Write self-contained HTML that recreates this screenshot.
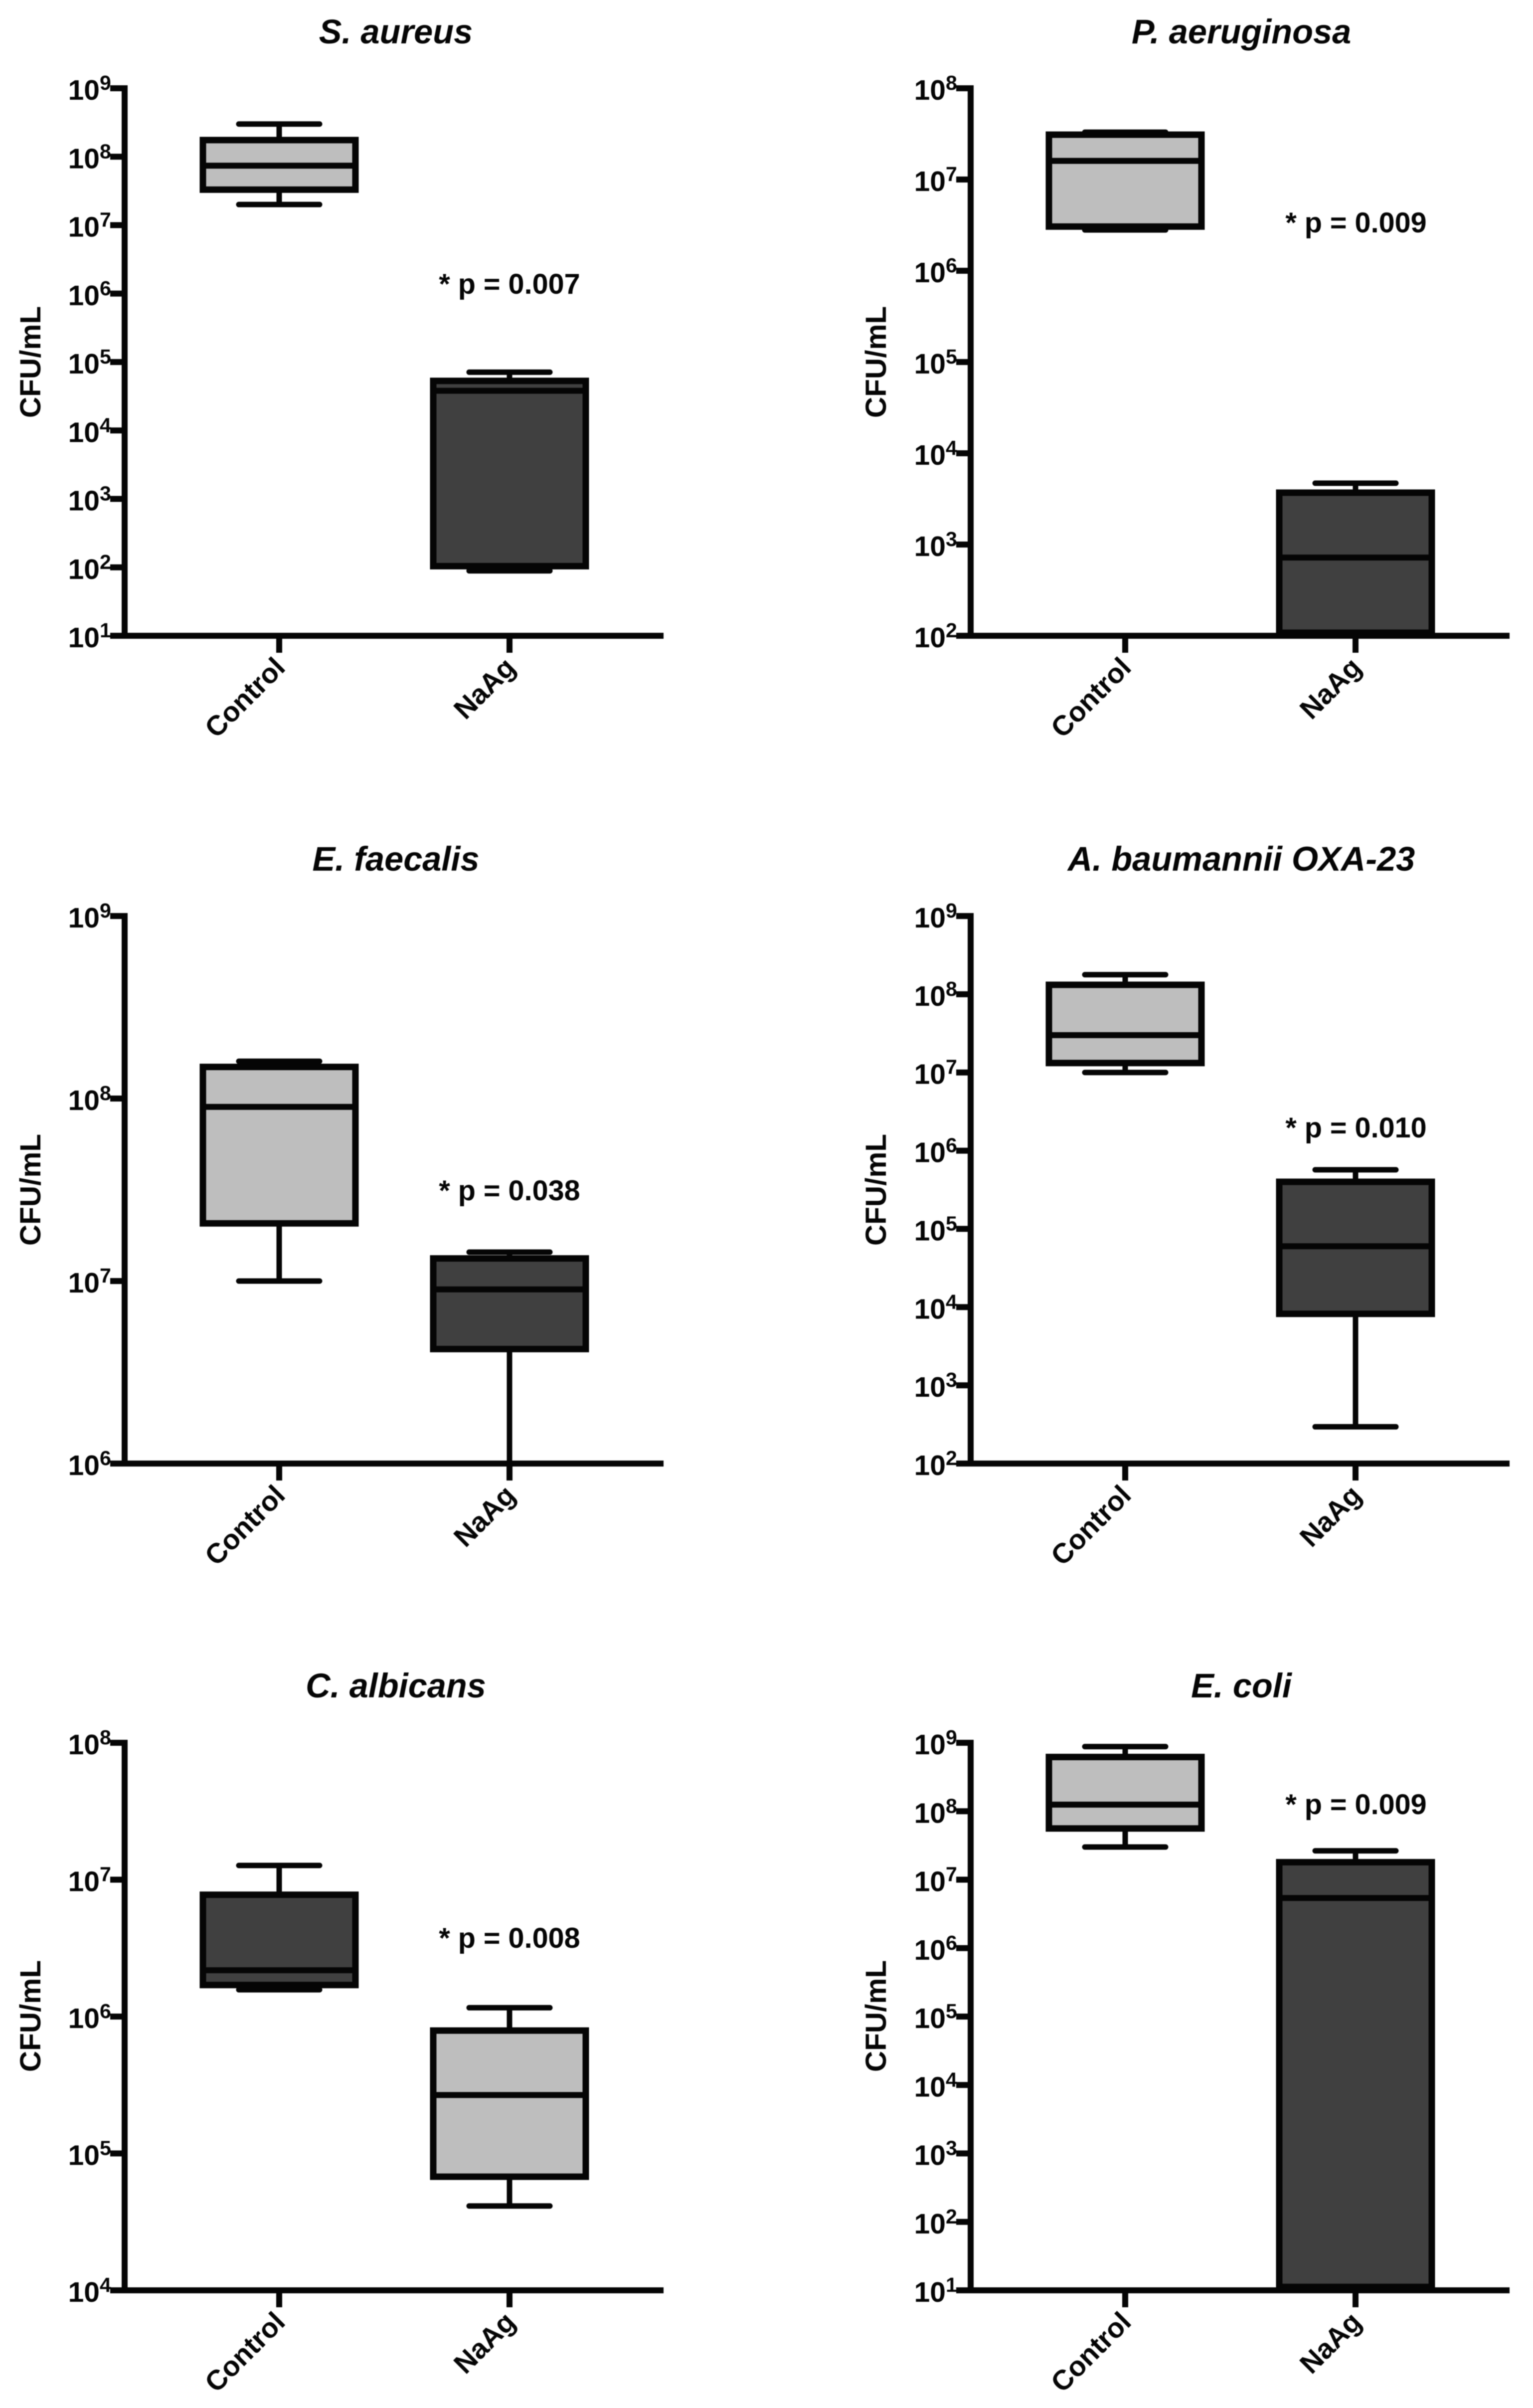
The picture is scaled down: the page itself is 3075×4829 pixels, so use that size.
<!DOCTYPE html>
<html lang="en">
<head>
<meta charset="utf-8">
<title>CFU/mL box plots: Control vs NaAg</title>
<style>
  html, body { margin: 0; padding: 0; background: #fff; }
  svg { display: block; filter: blur(0.9px); }
  text { font-family: "Liberation Sans", Arial, sans-serif; font-weight: 700; fill: #050505; }
  .title { font-size: 68.5px; font-style: italic; text-anchor: middle; }
  .ytitle { font-size: 58.5px; text-anchor: middle; }
  .pval { font-size: 57.6px; text-anchor: middle; }
</style>
</head>
<body>
<svg id="figure" xmlns="http://www.w3.org/2000/svg" width="3075" height="4829" viewBox="0 0 3075 4829">
  <rect x="0" y="0" width="3075" height="4829" fill="#ffffff"/>

  <g id="panel-0">
    <text class="title" x="794" y="87">S. aureus</text>
    <text class="ytitle" transform="translate(81 726) rotate(-90)">CFU/mL</text>
    <text class="pval" x="1022" y="589">* p = 0.007</text>
  </g>
  <g id="panel-1">
    <text class="title" x="2490" y="87">P. aeruginosa</text>
    <text class="ytitle" transform="translate(1777 726) rotate(-90)">CFU/mL</text>
    <text class="pval" x="2720" y="466">* p = 0.009</text>
  </g>
  <g id="panel-2">
    <text class="title" x="794" y="1746">E. faecalis</text>
    <text class="ytitle" transform="translate(81 2386) rotate(-90)">CFU/mL</text>
    <text class="pval" x="1022" y="2407">* p = 0.038</text>
  </g>
  <g id="panel-3">
    <text class="title" x="2490" y="1746">A. baumannii OXA-23</text>
    <text class="ytitle" transform="translate(1777 2386) rotate(-90)">CFU/mL</text>
    <text class="pval" x="2720" y="2281">* p = 0.010</text>
  </g>
  <g id="panel-4">
    <text class="title" x="794" y="3404">C. albicans</text>
    <text class="ytitle" transform="translate(81 4043) rotate(-90)">CFU/mL</text>
    <text class="pval" x="1022" y="3906">* p = 0.008</text>
  </g>
  <g id="panel-5">
    <text class="title" x="2490" y="3404">E. coli</text>
    <text class="ytitle" transform="translate(1777 4043) rotate(-90)">CFU/mL</text>
    <text class="pval" x="2720" y="3638">* p = 0.009</text>
  </g>
</svg>

<script>
// Categories shared by every panel
const categories = ['Control', 'NaAg'];

// Tick exponents (labels are 10^n), lowest to highest
const sAureusTicks = [1, 2, 3, 4, 5, 6, 7, 8, 9];
const pAeruginosaTicks = [2, 3, 4, 5, 6, 7, 8];
const eFaecalisTicks = [6, 7, 8, 9];
const aBaumanniiTicks = [2, 3, 4, 5, 6, 7, 8, 9];
const cAlbicansTicks = [4, 5, 6, 7, 8];
const eColiTicks = [1, 2, 3, 4, 5, 6, 7, 8, 9];

// Box values in CFU/mL: [whisker low, box bottom, median, box top, whisker high]
const sAureusControl = [2.0e7, 3.3e7, 7.4e7, 1.75e8, 3.0e8];
const sAureusNaAg = [8.9e1, 1.04e2, 3.8e4, 5.3e4, 7.1e4];
const pAeruginosaControl = [2.8e6, 3.05e6, 1.6e7, 3.1e7, 3.3e7];
const pAeruginosaNaAg = [1.05e2, 1.08e2, 7.2e2, 3.7e3, 4.7e3];
const eFaecalisControl = [1.0e7, 2.07e7, 9.0e7, 1.49e8, 1.6e8];
const eFaecalisNaAg = [1.0e6, 4.24e6, 9.0e6, 1.33e7, 1.44e7];
const aBaumanniiControl = [1.0e7, 1.32e7, 3.0e7, 1.32e8, 1.78e8];
const aBaumanniiNaAg = [2.95e2, 8.2e3, 6.0e4, 4.0e5, 5.7e5];
const cAlbicansControl = [1.57e6, 1.7e6, 2.18e6, 7.76e6, 1.27e7];
const cAlbicansNaAg = [4.13e4, 6.76e4, 2.67e5, 7.9e5, 1.16e6];
const eColiControl = [3.0e7, 5.6e7, 1.25e8, 6.2e8, 8.8e8];
const eColiNaAg = [1.05e1, 1.12e1, 5.4e6, 1.8e7, 2.64e7];

const panelSeries = [
  { ticks: sAureusTicks, control: sAureusControl, naag: sAureusNaAg, controlFill: '#bebebe', naagFill: '#404040' },
  { ticks: pAeruginosaTicks, control: pAeruginosaControl, naag: pAeruginosaNaAg, controlFill: '#bebebe', naagFill: '#404040' },
  { ticks: eFaecalisTicks, control: eFaecalisControl, naag: eFaecalisNaAg, controlFill: '#bebebe', naagFill: '#404040' },
  { ticks: aBaumanniiTicks, control: aBaumanniiControl, naag: aBaumanniiNaAg, controlFill: '#bebebe', naagFill: '#404040' },
  { ticks: cAlbicansTicks, control: cAlbicansControl, naag: cAlbicansNaAg, controlFill: '#404040', naagFill: '#bebebe' },
  { ticks: eColiTicks, control: eColiControl, naag: eColiNaAg, controlFill: '#bebebe', naagFill: '#404040' }
];

// Layout of each plot area (not data)
const frames = [
  { left: 250, top: 177, bottom: 1275 },
  { left: 1947, top: 177, bottom: 1275 },
  { left: 250, top: 1837, bottom: 2935 },
  { left: 1947, top: 1837, bottom: 2935 },
  { left: 250, top: 3495, bottom: 4593 },
  { left: 1947, top: 3495, bottom: 4593 }
];

const NS = 'http://www.w3.org/2000/svg';
const INK = '#050505';
const AXIS_W = 12;
const TICK_LEN = 29;
const AXIS_LEN = 1081;
const CAT_OFFSET = [310, 772];
const BOX_HALF = 153;
const CAP_HALF = 81;

function make(tag, attrs) {
  const el = document.createElementNS(NS, tag);
  for (const k in attrs) el.setAttribute(k, attrs[k]);
  return el;
}

function lineEl(x1, y1, x2, y2, w) {
  return make('line', { x1: x1, y1: y1, x2: x2, y2: y2, stroke: INK, 'stroke-width': w });
}

function yScale(frame, ticks) {
  const lo = ticks[0];
  const hi = ticks[ticks.length - 1];
  return function (value) {
    const t = (Math.log10(value) - lo) / (hi - lo);
    return frame.bottom - t * (frame.bottom - frame.top);
  };
}

function drawAxes(group, frame, ticks, y) {
  const yAxis = lineEl(frame.left, frame.top - AXIS_W / 2, frame.left, frame.bottom + AXIS_W / 2, AXIS_W);
  
  
  group.appendChild(yAxis);

  const xAxis = lineEl(frame.left - TICK_LEN, frame.bottom, frame.left + AXIS_LEN, frame.bottom, AXIS_W);
  
  
  group.appendChild(xAxis);

  ticks.forEach(function (exp) {
    const ty = y(Math.pow(10, exp));
    const tick = lineEl(frame.left - TICK_LEN, ty, frame.left, ty, AXIS_W);
    
    
    group.appendChild(tick);

    const base = make('text', { x: frame.left - 50, y: ty + 23, 'font-size': 57, 'text-anchor': 'end' });
    base.textContent = '10';
    
    
    group.appendChild(base);

    const sup = make('text', { x: frame.left - 50, y: ty + 3, 'font-size': 41, 'text-anchor': 'start' });
    sup.textContent = String(exp);
    
    
    group.appendChild(sup);
  });

  categories.forEach(function (name, i) {
    const cx = frame.left + CAT_OFFSET[i];
    const tick = lineEl(cx, frame.bottom, cx, frame.bottom + 34, AXIS_W);
    
    
    group.appendChild(tick);

    const label = make('text', {
      'font-size': 56,
      'text-anchor': 'end',
      transform: 'translate(' + (cx + 15) + ' ' + (frame.bottom + 67) + ') rotate(-45)'
    });
    label.textContent = name;
    
    
    group.appendChild(label);
  });
}

function drawBox(group, frame, catIndex, values, fill, y) {
  const cx = frame.left + CAT_OFFSET[catIndex];
  const lo = y(values[0]);
  const q1 = y(values[1]);
  const med = y(values[2]);
  const q3 = y(values[3]);
  const hi = y(values[4]);

  const whisker = lineEl(cx, hi, cx, lo, 11);
  
  
  group.appendChild(whisker);

  const capHigh = lineEl(cx - CAP_HALF, hi, cx + CAP_HALF, hi, 11);
  capHigh.setAttribute('stroke-linecap', 'round');
  
  
  group.appendChild(capHigh);

  const capLow = lineEl(cx - CAP_HALF, lo, cx + CAP_HALF, lo, 11);
  capLow.setAttribute('stroke-linecap', 'round');
  
  
  group.appendChild(capLow);

  const box = make('rect', {
    x: cx - BOX_HALF,
    y: q3,
    width: BOX_HALF * 2,
    height: q1 - q3,
    fill: fill,
    stroke: INK,
    'stroke-width': 13
  });
  
  
  group.appendChild(box);

  const median = lineEl(cx - BOX_HALF, med, cx + BOX_HALF, med, 12);
  
  
  group.appendChild(median);
}

panelSeries.forEach(function (series, i) {
  const group = document.getElementById('panel-' + i);
  const frame = frames[i];
  const y = yScale(frame, series.ticks);
  drawAxes(group, frame, series.ticks, y);
  drawBox(group, frame, 0, series.control, series.controlFill, y);
  drawBox(group, frame, 1, series.naag, series.naagFill, y);
});
</script>
</body>
</html>
